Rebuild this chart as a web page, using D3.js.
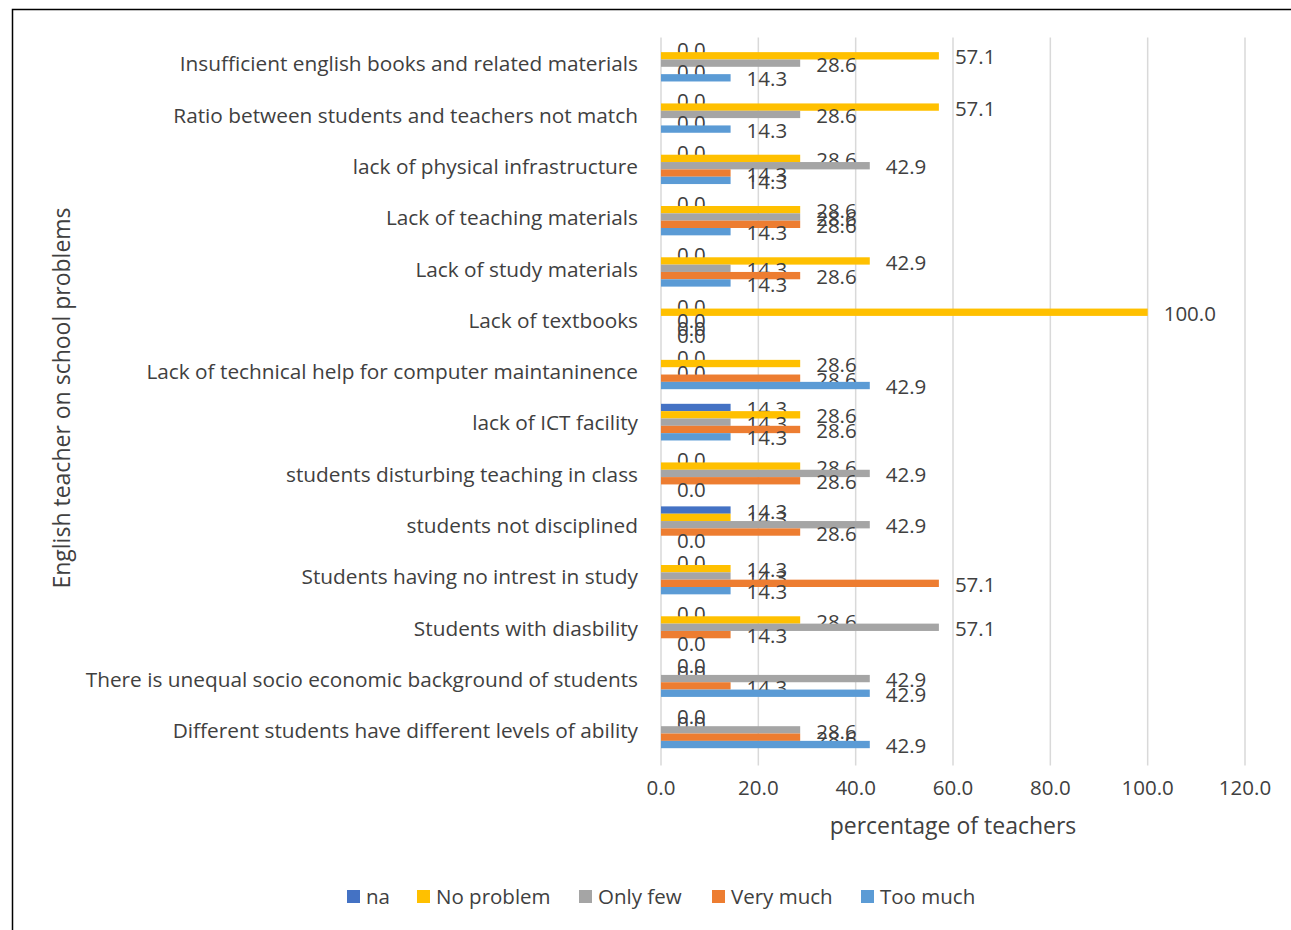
<!DOCTYPE html>
<html>
<head>
<meta charset="utf-8">
<script src="https://cdn.jsdelivr.net/npm/d3@7"></script>
<style>
  body { margin: 0; background: #fff; }
  svg { display: block; }
</style>
</head>
<body>
<svg width="1291" height="930"></svg>
<script>
const svg = d3.select("svg");
const font = "Open Sans, Noto Sans, sans-serif";
const textColor = "#404040";

// categories, top to bottom
const categories = [
  "Insufficient english books and related materials",
  "Ratio between students and teachers not match",
  "lack of physical infrastructure",
  "Lack of teaching materials",
  "Lack of study materials",
  "Lack of textbooks",
  "Lack of technical help for computer maintaninence",
  "lack of ICT facility",
  "students disturbing teaching in class",
  "students not disciplined",
  "Students having no intrest in study",
  "Students with diasbility",
  "There is unequal socio economic background of students",
  "Different students have different levels of ability"
];

const seriesNames = ["na", "No problem", "Only few", "Very much", "Too much"];
const seriesColors = ["#4472C4", "#FFC000", "#A5A5A5", "#ED7D31", "#5B9BD5"];

// values per series, in category order
const na        = [0, 0, 0, 0, 0, 0, 0, 14.3, 0, 14.3, 0, 0, 0, 0];
const noProblem = [57.1, 57.1, 28.6, 28.6, 42.9, 100, 28.6, 28.6, 28.6, 14.3, 14.3, 28.6, 0, 0];
const onlyFew   = [28.6, 28.6, 42.9, 28.6, 14.3, 0, 0, 14.3, 42.9, 42.9, 14.3, 57.1, 42.9, 28.6];
const veryMuch  = [0, 0, 14.3, 28.6, 28.6, 0, 28.6, 28.6, 28.6, 28.6, 57.1, 14.3, 14.3, 28.6];
const tooMuch   = [14.3, 14.3, 14.3, 14.3, 14.3, 0, 42.9, 14.3, 0, 0, 14.3, 0, 42.9, 42.9];

const xTicks = [0, 20, 40, 60, 80, 100, 120];

const seriesValues = [na, noProblem, onlyFew, veryMuch, tooMuch];

// frame
svg.append("rect")
   .attr("x", 12.5)
   .attr("y", 9.5)
   .attr("width", 1300)
   .attr("height", 940)
   .attr("fill", "none")
   .attr("stroke", "#000")
   .attr("stroke-width", 1.5);

const plotLeft = 661, plotRight = 1245, plotTop = 37.5, plotBottom = 755.5;

const x = d3.scaleLinear().domain([0, 120]).range([plotLeft, plotRight]);
const y = d3.scaleBand().domain(categories).range([plotTop, plotBottom]).paddingInner(0.285).paddingOuter(0.1425);
const ys = d3.scaleBand().domain(seriesNames).range([0, y.bandwidth()]);

// gridlines
svg.append("g")
   .selectAll("line")
   .data(xTicks)
   .join("line")
   .attr("x1", d => x(d))
   .attr("x2", d => x(d))
   .attr("y1", plotTop)
   .attr("y2", plotBottom + 10)
   .attr("stroke", "#d9d9d9")
   .attr("stroke-width", 1.5);

// tick labels
svg.append("g")
   .selectAll("text")
   .data(xTicks)
   .join("text")
   .attr("x", d => x(d))
   .attr("y", 795)
   .attr("text-anchor", "middle")
   .attr("font-size", "20.5px")
   .attr("font-family", font)
   .attr("fill", textColor)
   .text(d => d.toFixed(1));

// category labels
svg.append("g")
   .selectAll("text")
   .data(categories)
   .join("text")
   .attr("x", 638)
   .attr("y", d => y(d) + y.bandwidth() / 2 + 1)
   .attr("dy", "0.35em")
   .attr("text-anchor", "end")
   .attr("font-size", "20.8px")
   .attr("font-family", font)
   .attr("fill", textColor)
   .text(d => d);

// bars + data labels
seriesNames.forEach((name, si) => {
  const g = svg.append("g");
  const data = categories.map((c, i) => ({ c, v: seriesValues[si][i] }));
  g.selectAll("rect")
   .data(data)
   .join("rect")
   .attr("x", x(0))
   .attr("y", d => y(d.c) + ys(name))
   .attr("width", d => x(d.v) - x(0))
   .attr("height", ys.bandwidth())
   .attr("fill", seriesColors[si]);
  g.selectAll("text")
   .data(data)
   .join("text")
   .attr("x", d => x(d.v) + 16)
   .attr("y", d => y(d.c) + ys(name) + ys.bandwidth() / 2 + 1.5)
   .attr("dy", "0.35em")
   .attr("font-size", "20.5px")
   .attr("font-family", font)
   .attr("fill", textColor)
   .text(d => d.v.toFixed(1));
});

// axis titles
svg.append("text")
   .attr("x", 953)
   .attr("y", 834)
   .attr("text-anchor", "middle")
   .attr("font-size", "23px")
   .attr("font-family", font)
   .attr("fill", textColor)
   .text("percentage of teachers");

svg.append("text")
   .attr("transform", "translate(70, 398) rotate(-90)")
   .attr("text-anchor", "middle")
   .attr("font-size", "23px")
   .attr("font-family", font)
   .attr("fill", textColor)
   .text("English teacher on school problems");

// legend
const legendX = [347, 417, 579, 712, 861];
const legend = svg.append("g")
   .selectAll("g")
   .data(seriesNames)
   .join("g")
   .attr("transform", (d, i) => `translate(${legendX[i]}, 890)`);
legend.append("rect")
   .attr("width", 13)
   .attr("height", 13)
   .attr("fill", (d, i) => seriesColors[i]);
legend.append("text")
   .attr("x", 19)
   .attr("y", 7)
   .attr("dy", "0.35em")
   .attr("font-size", "20.5px")
   .attr("font-family", font)
   .attr("fill", textColor)
   .text(d => d);
</script>
</body>
</html>
